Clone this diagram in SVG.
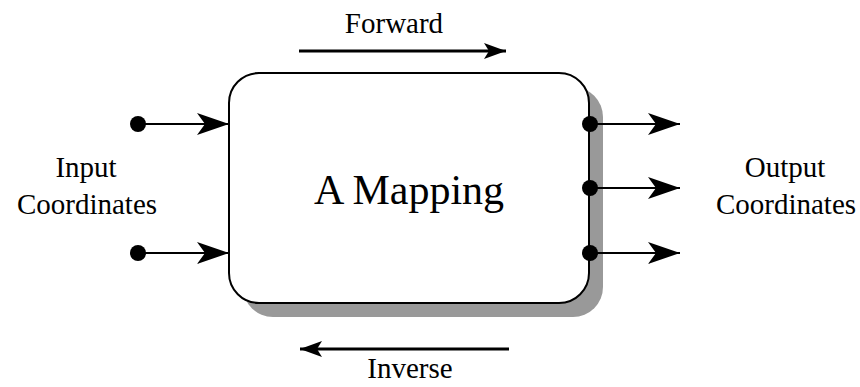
<svg xmlns="http://www.w3.org/2000/svg" width="860" height="387" viewBox="0 0 860 387">
<style>
text{font-family:"Liberation Serif","Times New Roman",serif;fill:#000}
.lbl{font-size:29px}
.conn{stroke:#000;stroke-width:2;fill:none}
.thick{stroke:#000;stroke-width:3;fill:none}
</style>
<defs>
<marker id="ah" markerUnits="userSpaceOnUse" markerWidth="34" markerHeight="24" refX="32" refY="12" orient="auto">
<path d="M0,1 L32,12 L0,23 L8,12 Z" fill="#000"/>
</marker>
<marker id="ah2" markerUnits="userSpaceOnUse" markerWidth="24" markerHeight="18" refX="22" refY="9" orient="auto">
<path d="M0,1 L22,9 L0,17 L5,9 Z" fill="#000"/>
</marker>
</defs>
<g id="mapping">
<rect x="243" y="87" width="360" height="230" rx="30" fill="#999"/>
<rect x="229" y="73" width="360" height="230" rx="30" fill="#fff" stroke="#000" stroke-width="2"/>
<text x="409" y="204" font-size="42" text-anchor="middle">A Mapping</text>
</g>
<g id="input-label">
<text class="lbl" x="86" y="177" text-anchor="middle">Input</text>
<text class="lbl" x="87" y="214" text-anchor="middle">Coordinates</text>
</g>
<g id="output-label">
<text class="lbl" x="785" y="177" text-anchor="middle">Output</text>
<text class="lbl" x="786" y="214" text-anchor="middle">Coordinates</text>
</g>
<g id="forward-label"><text class="lbl" x="394" y="33" text-anchor="middle">Forward</text></g>
<g id="inverse-label"><text class="lbl" x="410" y="378" text-anchor="middle">Inverse</text></g>
<g id="connectors">
<circle cx="138" cy="124" r="8"/>
<line class="conn" x1="138" y1="124" x2="229" y2="124" marker-end="url(#ah)"/>
<circle cx="138" cy="253" r="8"/>
<line class="conn" x1="138" y1="253" x2="229" y2="253" marker-end="url(#ah)"/>
<circle cx="590" cy="124" r="8"/>
<line class="conn" x1="590" y1="124" x2="680" y2="124" marker-end="url(#ah)"/>
<circle cx="590" cy="188" r="8"/>
<line class="conn" x1="590" y1="188" x2="680" y2="188" marker-end="url(#ah)"/>
<circle cx="590" cy="253" r="8"/>
<line class="conn" x1="590" y1="253" x2="680" y2="253" marker-end="url(#ah)"/>
<line class="thick" x1="299" y1="51" x2="506" y2="51" marker-end="url(#ah2)"/>
<line class="thick" x1="509" y1="349" x2="300" y2="349" marker-end="url(#ah2)"/>
</g>
</svg>
